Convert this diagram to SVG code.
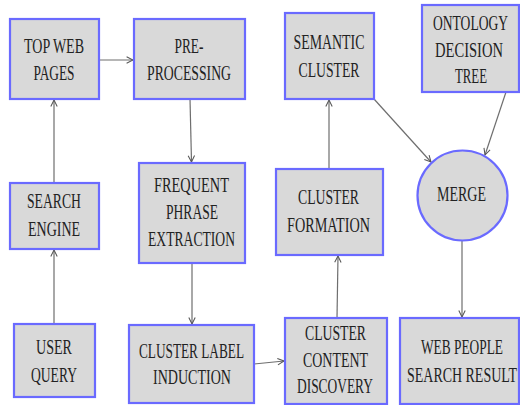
<svg xmlns="http://www.w3.org/2000/svg" width="520" height="405" viewBox="0 0 520 405">
<style>
.box{fill:#d9d9d9;stroke:#6a6aff;stroke-width:2.2}
.t{font-family:"Liberation Serif",serif;font-size:22px;fill:#222;text-anchor:middle}
.c{stroke:#6e6e6e;stroke-width:1.2;fill:none;marker-end:url(#ah)}
</style>
<defs>
<marker id="ah" viewBox="0 0 10 10" refX="9" refY="5" markerWidth="8" markerHeight="8" markerUnits="userSpaceOnUse" orient="auto">
<path d="M1,1 L9,5 L1,9" fill="none" stroke="#555" stroke-width="1.3"/>
</marker>
</defs>
<rect width="520" height="405" fill="#fff"/>
<g id="connectors">
<line class="c" x1="54" y1="324" x2="54" y2="250"/>
<line class="c" x1="54" y1="183" x2="54" y2="100"/>
<line class="c" x1="99" y1="60" x2="133" y2="60"/>
<line class="c" x1="190" y1="99" x2="191.5" y2="162"/>
<line class="c" x1="192" y1="263" x2="192" y2="324"/>
<line class="c" x1="254" y1="364" x2="284" y2="361"/>
<line class="c" x1="337" y1="318" x2="338" y2="256"/>
<line class="c" x1="329" y1="169" x2="329" y2="100"/>
<line class="c" x1="374" y1="99" x2="431" y2="162"/>
<line class="c" x1="506" y1="92" x2="485" y2="155"/>
<line class="c" x1="462" y1="241" x2="462" y2="317"/>
</g>
<g id="top-web-pages"><rect class="box" x="10" y="19" width="89" height="80"/>
<text class="t" transform="translate(54,53) scale(0.6,1)" textLength="100" lengthAdjust="spacingAndGlyphs">TOP WEB</text>
<text class="t" transform="translate(54,80) scale(0.6,1)" textLength="68.3" lengthAdjust="spacingAndGlyphs">PAGES</text></g>
<g id="pre-processing"><rect class="box" x="134" y="19" width="111" height="80"/>
<text class="t" transform="translate(189,53) scale(0.6,1)" textLength="48.3" lengthAdjust="spacingAndGlyphs">PRE-</text>
<text class="t" transform="translate(189,80) scale(0.6,1)" textLength="140" lengthAdjust="spacingAndGlyphs">PROCESSING</text></g>
<g id="semantic-cluster"><rect class="box" x="285" y="13" width="89" height="86"/>
<text class="t" transform="translate(329,49) scale(0.6,1)" textLength="118.3" lengthAdjust="spacingAndGlyphs">SEMANTIC</text>
<text class="t" transform="translate(329,77) scale(0.6,1)" textLength="101.7" lengthAdjust="spacingAndGlyphs">CLUSTER</text></g>
<g id="ontology-decision-tree"><rect class="box" x="422" y="5" width="97" height="87"/>
<text class="t" transform="translate(470.5,30) scale(0.6,1)" textLength="125" lengthAdjust="spacingAndGlyphs">ONTOLOGY</text>
<text class="t" transform="translate(469,57) scale(0.6,1)" textLength="113.3" lengthAdjust="spacingAndGlyphs">DECISION</text>
<text class="t" transform="translate(471,83) scale(0.6,1)" textLength="53.3" lengthAdjust="spacingAndGlyphs">TREE</text></g>
<g id="search-engine"><rect class="box" x="10" y="183" width="89" height="66"/>
<text class="t" transform="translate(54,208) scale(0.6,1)" textLength="90" lengthAdjust="spacingAndGlyphs">SEARCH</text>
<text class="t" transform="translate(54,236) scale(0.6,1)" textLength="86.7" lengthAdjust="spacingAndGlyphs">ENGINE</text></g>
<g id="frequent-phrase-extraction"><rect class="box" x="139" y="163" width="106" height="100"/>
<text class="t" transform="translate(191.5,192) scale(0.6,1)" textLength="125" lengthAdjust="spacingAndGlyphs">FREQUENT</text>
<text class="t" transform="translate(192,219) scale(0.6,1)" textLength="86.7" lengthAdjust="spacingAndGlyphs">PHRASE</text>
<text class="t" transform="translate(191.5,246) scale(0.6,1)" textLength="145" lengthAdjust="spacingAndGlyphs">EXTRACTION</text></g>
<g id="cluster-formation"><rect class="box" x="276" y="169" width="107" height="86"/>
<text class="t" transform="translate(328.5,204) scale(0.6,1)" textLength="101.7" lengthAdjust="spacingAndGlyphs">CLUSTER</text>
<text class="t" transform="translate(328.5,232) scale(0.6,1)" textLength="138.3" lengthAdjust="spacingAndGlyphs">FORMATION</text></g>
<g id="merge"><circle class="box" cx="462.5" cy="195.5" r="45"/>
<text class="t" transform="translate(461.5,201) scale(0.6,1)" textLength="81.7" lengthAdjust="spacingAndGlyphs">MERGE</text></g>
<g id="user-query"><rect class="box" x="14" y="324" width="81" height="73"/>
<text class="t" transform="translate(54,354) scale(0.6,1)" textLength="60" lengthAdjust="spacingAndGlyphs">USER</text>
<text class="t" transform="translate(54,382) scale(0.6,1)" textLength="76.7" lengthAdjust="spacingAndGlyphs">QUERY</text></g>
<g id="cluster-label-induction"><rect class="box" x="129" y="325" width="125" height="78"/>
<text class="t" transform="translate(191.5,358) scale(0.6,1)" textLength="175" lengthAdjust="spacingAndGlyphs">CLUSTER LABEL</text>
<text class="t" transform="translate(192,384) scale(0.6,1)" textLength="130" lengthAdjust="spacingAndGlyphs">INDUCTION</text></g>
<g id="cluster-content-discovery"><rect class="box" x="285" y="318" width="102" height="86"/>
<text class="t" transform="translate(335.5,340) scale(0.6,1)" textLength="101.7" lengthAdjust="spacingAndGlyphs">CLUSTER</text>
<text class="t" transform="translate(335.5,367) scale(0.6,1)" textLength="108.3" lengthAdjust="spacingAndGlyphs">CONTENT</text>
<text class="t" transform="translate(335,393) scale(0.6,1)" textLength="126.7" lengthAdjust="spacingAndGlyphs">DISCOVERY</text></g>
<g id="web-people-search-result"><rect class="box" x="400" y="318" width="119" height="86"/>
<text class="t" transform="translate(462,354) scale(0.6,1)" textLength="136.7" lengthAdjust="spacingAndGlyphs">WEB PEOPLE</text>
<text class="t" transform="translate(462,382) scale(0.6,1)" textLength="183.3" lengthAdjust="spacingAndGlyphs">SEARCH RESULT</text></g>
</svg>
